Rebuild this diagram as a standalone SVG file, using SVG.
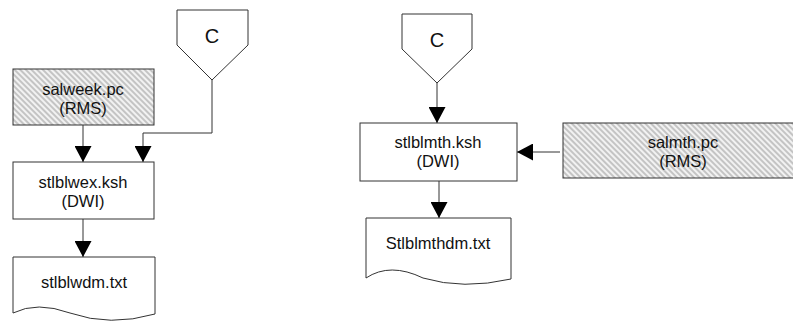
<svg xmlns="http://www.w3.org/2000/svg" width="793" height="323" viewBox="0 0 793 323">
<style>
.box{fill:#fff;stroke:#333;stroke-width:1}
.hatch{fill:url(#hatch);stroke:#333;stroke-width:1}
.t{font-family:"Liberation Sans",Arial,sans-serif;font-size:16.5px;fill:#111;text-anchor:middle}
.c{font-family:"Liberation Sans",Arial,sans-serif;font-size:20px;fill:#111;text-anchor:middle}
.con{fill:none;stroke:#333;stroke-width:1;marker-end:url(#arr)}
</style>
<defs>
<pattern id="hatch" width="4" height="4" patternUnits="userSpaceOnUse" patternTransform="rotate(-45)">
<rect width="4" height="4" fill="#f2f2f2"/>
<rect width="2" height="4" fill="#c4c4c4"/>
</pattern>
<marker id="arr" markerUnits="userSpaceOnUse" markerWidth="17" markerHeight="17" refX="16" refY="8.5" orient="auto">
<path d="M0,0 L16,8.5 L0,17 z" fill="#000"/>
</marker>
</defs>
<g id="connectors">
<path class="con" d="M83,125 V162"/>
<path class="con" d="M212,80 V133 H143 V162"/>
<path class="con" d="M83,219 V257"/>
<path class="con" d="M437,83 V123"/>
<path class="con" d="M560,152 H517"/>
<path class="con" d="M439,181 V218"/>
</g>
<g id="c-left">
<path class="box" d="M177,10 H248 V45 L212,80 L177,45 Z"/>
<text class="c" x="212" y="43">C</text>
</g>
<g id="salweek">
<rect class="hatch" x="13" y="69" width="141" height="56"/>
<text class="t" x="83" y="95">salweek.pc</text>
<text class="t" x="83" y="114">(RMS)</text>
</g>
<g id="stlblwex">
<rect class="box" x="13" y="162" width="141" height="57"/>
<text class="t" x="83" y="188">stlblwex.ksh</text>
<text class="t" x="83" y="207">(DWI)</text>
</g>
<g id="stlblwdm">
<path class="box" d="M13,257 H155 V314 Q110,327 70,313 Q37,301 13,313 Z"/>
<text class="t" x="84" y="288">stlblwdm.txt</text>
</g>
<g id="c-right">
<path class="box" d="M402,14 H472 V49 L437,83 L402,49 Z"/>
<text class="c" x="437" y="47">C</text>
</g>
<g id="stlblmth">
<rect class="box" x="360" y="123" width="157" height="58"/>
<text class="t" x="438" y="148">stlblmth.ksh</text>
<text class="t" x="438" y="167">(DWI)</text>
</g>
<g id="salmth">
<rect class="hatch" x="563" y="123" width="240" height="55"/>
<text class="t" x="683" y="148">salmth.pc</text>
<text class="t" x="683" y="167">(RMS)</text>
</g>
<g id="stlblmthdm">
<path class="box" d="M366,218 H511 V279 Q463,290 423,278 Q390,262 366,278 Z"/>
<text class="t" x="438" y="249">Stlblmthdm.txt</text>
</g>
</svg>
